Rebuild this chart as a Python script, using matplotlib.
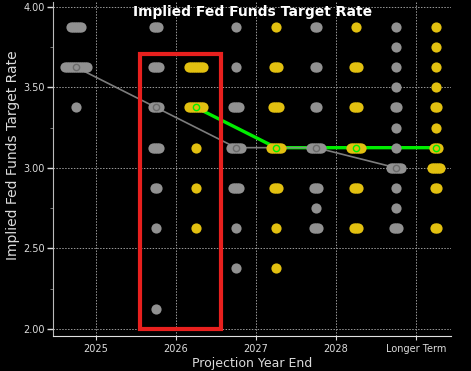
import numpy as np
import matplotlib
matplotlib.use("Agg")
import matplotlib.pyplot as plt
from matplotlib.patches import Rectangle

# projection columns
years = ["2025", "2026", "2027", "2028", "Longer Term"]

# rate levels (top to bottom), counts of participants at each level
rate_levels = [3.875, 3.75, 3.625, 3.5, 3.375, 3.25, 3.125, 3.0,
               2.875, 2.75, 2.625, 2.5, 2.375, 2.25, 2.125]

# previous projections (gray)
prev_2025 = [6, 0, 12, 0, 1, 0, 0, 0, 0, 0, 0, 0, 0, 0, 0]
prev_2026 = [3, 0, 4, 0, 4, 0, 4, 0, 2, 0, 1, 0, 0, 0, 1]
prev_2027 = [1, 0, 1, 0, 4, 0, 6, 0, 4, 0, 1, 0, 1, 0, 0]
prev_2028 = [2, 0, 2, 0, 2, 0, 6, 0, 3, 1, 3, 0, 0, 0, 0]
prev_lt = [1, 1, 1, 1, 2, 1, 1, 6, 1, 1, 3, 0, 0, 0, 0]

# current projections (yellow), no 2025 column
curr_2026 = [0, 0, 8, 0, 8, 0, 1, 0, 1, 0, 1, 0, 0, 0, 0]
curr_2027 = [1, 0, 3, 0, 4, 0, 6, 0, 3, 0, 1, 0, 1, 0, 0]
curr_2028 = [1, 0, 3, 0, 3, 0, 6, 0, 3, 0, 3, 0, 0, 0, 0]
curr_lt = [1, 1, 1, 1, 2, 1, 3, 5, 2, 0, 2, 0, 0, 0, 0]

prev_median = [3.625, 3.375, 3.125, 3.125, 3.0]
curr_median = [3.375, 3.125, 3.125, 3.125]   # 2026 onwards

prev_cols = [prev_2025, prev_2026, prev_2027, prev_2028, prev_lt]
curr_cols = [None, curr_2026, curr_2027, curr_2028, curr_lt]

GRAY = "#919191"
YELLOW = "#e2c010"
GREEN = "#00ee00"
TXT = "#dcdcdc"

fig = plt.figure(figsize=(4.71, 3.71), dpi=100, facecolor="black")
ax = fig.add_axes([53/471, 1 - 336/371, 398/471, 334/371], facecolor="black")

step = 0.025   # horizontal spacing of stacked dots
dot_s = 54

def draw_dots(cols, shift, color):
    for i, counts in enumerate(cols):
        if counts is None:
            continue
        for rate, n in zip(rate_levels, counts):
            if n == 0:
                continue
            offs = (np.arange(n) - (n - 1) / 2) * step
            ax.scatter(i + shift + offs, [rate] * n, s=dot_s, color=color,
                       linewidths=0, zorder=3)

# median lines
xs_prev = np.arange(len(years)) - 0.25
xs_curr = np.arange(1, len(years)) + 0.25
ax.plot(xs_curr, curr_median, color=GREEN, lw=2.4, zorder=2)
ax.plot(xs_prev, prev_median, color="#8a8a8a", lw=1.2, zorder=2, alpha=0.9)

draw_dots(prev_cols, -0.25, GRAY)
draw_dots(curr_cols, 0.25, YELLOW)

# hollow median markers
ax.plot(xs_prev, prev_median, ls="none", marker="o", ms=4.5, mfc="none",
        mec="#6a6a6a", mew=1, zorder=4)
ax.plot(xs_curr, curr_median, ls="none", marker="o", ms=4.5, mfc="none",
        mec=GREEN, mew=1, zorder=4)

# highlight box around 2026
ax.add_patch(Rectangle((0.55, 2.0), 1.0125, 1.707, fill=False,
                       edgecolor="#e8201e", lw=3, zorder=5, clip_on=False))

ax.set_xlim(-0.5375, 4.4375)
ax.set_ylim(1.955, 4.03)
ax.set_xticks(range(len(years)))
ax.set_xticklabels(years)
ax.set_yticks([2.0, 2.5, 3.0, 3.5, 4.0])
ax.set_yticklabels(["2.00", "2.50", "3.00", "3.50", "4.00"])
ax.set_yticks([2.25, 2.75, 3.25, 3.75], minor=True)

ax.grid(True, color="#9a9a9a", ls=(0, (1.5, 1.5)), lw=0.7, zorder=1)
ax.tick_params(axis="both", colors=TXT, labelsize=7)
ax.tick_params(axis="y", which="major", length=4, width=1, pad=2)
ax.tick_params(axis="y", which="minor", length=2, color="#888888")
ax.tick_params(axis="x", length=3, pad=3)

for side in ["top", "right"]:
    ax.spines[side].set_visible(False)
ax.spines["left"].set_color("#bbbbbb")
ax.spines["bottom"].set_color("#e0e0e0")

ax.set_xlabel("Projection Year End", color=TXT, fontsize=9, labelpad=2)
ax.set_ylabel("Implied Fed Funds Target Rate", color=TXT, fontsize=10)
ax.yaxis.set_label_coords(-0.083, 0.542)

fig.text(253/471, 1 - 12/371, "Implied Fed Funds Target Rate", color="white",
         fontsize=10, fontweight="bold", ha="center", va="center")

fig.savefig("out.png", dpi=100, facecolor="black")
